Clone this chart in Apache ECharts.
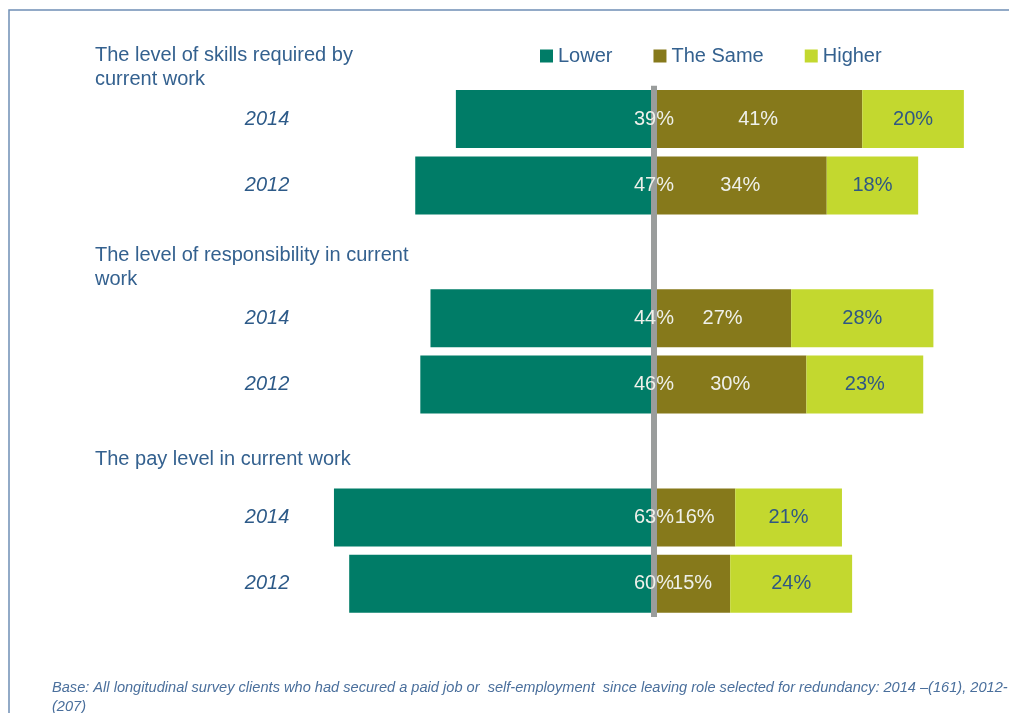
<!DOCTYPE html>
<html>
<head>
<meta charset="utf-8">
<script src="https://cdn.jsdelivr.net/npm/echarts@6/dist/echarts.min.js"></script>
<style>
  html, body { margin: 0; padding: 0; background: #ffffff; }
  #chart { width: 1009px; height: 713px; }
</style>
</head>
<body>
<div id="chart"></div>
<script>
// Survey questions (one block of bars each) and the two survey waves
const groupTitles = [
  'The level of skills required by\ncurrent work',
  'The level of responsibility in current\nwork',
  'The pay level in current work'
];
const years = ['2014', '2012'];

// Shares (%) per row, in row order: skills 2014, 2012, responsibility 2014, 2012, pay 2014, 2012
const lowerPct  = [39, 47, 44, 46, 63, 60];
const samePct   = [41, 34, 27, 30, 16, 15];
const higherPct = [20, 18, 28, 23, 21, 24];

const seriesNames = ['Lower', 'The Same', 'Higher'];
const colors = ['#007c67', '#86791b', '#c3d82f'];

const footnote = 'Base: All longitudinal survey clients who had secured a paid job or  self-employment  since leaving role selected for redundancy: 2014 \u2013(161), 2012-\n(207)';

// Build category slots: two year rows per question, with an empty slot between questions
const categories = [];
const rowIndex = [];
groupTitles.forEach((t, g) => {
  if (g > 0) { categories.push('gap-' + g); rowIndex.push(-1); }
  years.forEach((y, k) => {
    categories.push(g + '-' + y);
    rowIndex.push(g * years.length + k);
  });
});
const pick = (arr, sign) => rowIndex.map(i => (i < 0 ? '-' : sign * arr[i]));

const textBlue = '#34618f';
const lightText = '#eef0ea';
const font = '"Liberation Sans", Arial, sans-serif';

const chart = echarts.init(document.getElementById('chart'), null, { renderer: 'canvas' });

const valueLabel = (color, extra) => Object.assign({
  show: true,
  color: color,
  fontFamily: font,
  fontSize: 20,
  formatter: p => Math.abs(p.value) + '%'
}, extra || {});

chart.setOption({
  animation: false,
  backgroundColor: '#ffffff',
  tooltip: { show: false },
  legend: {
    data: seriesNames,
    left: 540,
    top: 46,
    padding: 0,
    icon: 'rect',
    itemWidth: 13,
    itemHeight: 13,
    itemGap: 41,
    textStyle: { color: textBlue, fontFamily: font, fontSize: 20 }
  },
  grid: { left: 247.6, right: 24.8, top: 85.8, bottom: 96, containLabel: false },
  xAxis: {
    type: 'value',
    min: -80,
    max: 65,
    show: false,
    splitLine: { show: false }
  },
  yAxis: {
    type: 'category',
    data: categories,
    inverse: true,
    axisLine: { show: false },
    axisTick: { show: false },
    splitLine: { show: false },
    axisLabel: {
      margin: -19.5,
      align: 'center',
      color: '#2d5a88',
      fontFamily: font,
      fontStyle: 'italic',
      fontSize: 20,
      formatter: v => (v.indexOf('gap') === 0 ? '' : v.split('-')[1])
    }
  },
  series: [
    {
      name: seriesNames[0],
      type: 'bar',
      stack: 'total',
      barWidth: 58,
      barGap: '-100%',
      itemStyle: { color: colors[0] },
      data: pick(lowerPct, -1)
    },
    {
      name: seriesNames[1],
      type: 'bar',
      stack: 'total',
      barWidth: 58,
      itemStyle: { color: colors[1] },
      label: valueLabel(lightText, { position: 'inside' }),
      data: pick(samePct, 1)
    },
    {
      name: seriesNames[2],
      type: 'bar',
      stack: 'total',
      barWidth: 58,
      itemStyle: { color: colors[2] },
      label: valueLabel('#2f5784', { position: 'inside' }),
      data: pick(higherPct, 1),
      markLine: {
        silent: true,
        z: 3,
        symbol: 'none',
        label: { show: false },
        lineStyle: { color: '#9a9d9c', width: 6, type: 'solid' },
        data: [{ xAxis: 0 }]
      }
    },
    {
      // "Lower" share labels, centred on the zero line and kept above it
      name: 'Lower share',
      type: 'bar',
      stack: 'lowerLabels',
      barWidth: 58,
      barGap: '-100%',
      z: 4,
      silent: true,
      itemStyle: { color: 'rgba(0,0,0,0)' },
      label: valueLabel(lightText, { position: ['100%', '50%'], align: 'center', verticalAlign: 'middle' }),
      data: pick(lowerPct, -1)
    }
  ],
  graphic: [
    {
      type: 'polyline',
      silent: true,
      shape: { points: [[9, 713], [9, 10], [1009, 10]] },
      style: { stroke: '#6f8fb5', lineWidth: 1.5, fill: null }
    },
    {
      type: 'text', left: 95, top: 44,
      style: { text: groupTitles[0], fill: textBlue, font: '20px ' + font, lineHeight: 23.5 }
    },
    {
      type: 'text', left: 95, top: 244,
      style: { text: groupTitles[1], fill: textBlue, font: '20px ' + font, lineHeight: 23.5 }
    },
    {
      type: 'text', left: 95, top: 448,
      style: { text: groupTitles[2], fill: textBlue, font: '20px ' + font, lineHeight: 23.5 }
    },
    {
      type: 'text', left: 52, top: 679,
      style: { text: footnote, fill: '#4a6f9c', font: 'italic 14.6px ' + font, lineHeight: 18.5 }
    }
  ]
});
</script>
</body>
</html>
